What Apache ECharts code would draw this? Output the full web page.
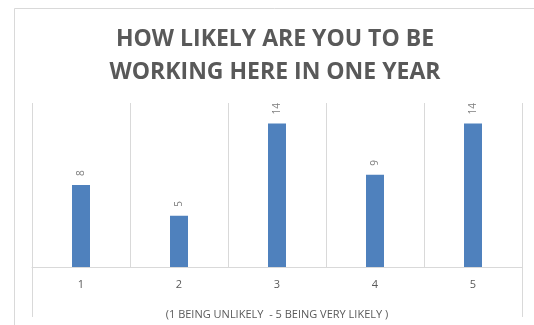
<!DOCTYPE html>
<html>
<head>
<meta charset="utf-8">
<script src="https://cdn.jsdelivr.net/npm/echarts@6/dist/echarts.min.js"></script>
<style>
  html, body { margin: 0; padding: 0; background: #fff; }
  #chart { width: 534px; height: 325px; }
</style>
</head>
<body>
<div id="chart"></div>
<script>
// 数据
const categories = ['1', '2', '3', '4', '5'];
const counts = [8, 5, 14, 9, 14];
const titleText = 'HOW LIKELY ARE YOU TO BE\nWORKING HERE IN ONE YEAR';
const axisTitle = '(1 BEING UNLIKELY  - 5 BEING VERY LIKELY )';

const chart = echarts.init(document.getElementById('chart'));

const option = {
  backgroundColor: '#fff',
  animation: false,
  title: {
    text: titleText,
    left: 270,
    textAlign: 'center',
    top: 18,
    textStyle: {
      fontFamily: 'Open Sans',
      fontWeight: 'bold',
      fontSize: 23,
      lineHeight: 33,
      color: '#595959'
    }
  },
  // 外框
  graphic: [
    {
      type: 'rect',
      shape: { x: 14.5, y: 8.5, width: 600, height: 400 },
      style: { fill: 'none', stroke: '#d9d9d9', lineWidth: 1 },
      silent: true
    }
  ],
  grid: {
    left: 32,
    right: 12,
    top: 103,
    bottom: 53
  },
  xAxis: {
    type: 'category',
    data: categories,
    axisLine: { lineStyle: { color: '#d9d9d9' } },
    axisTick: {
      show: true,
      length: 50,
      interval: function (index) { return index === 0; },
      lineStyle: { color: '#d9d9d9' }
    },
    axisLabel: {
      fontFamily: 'Open Sans',
      fontSize: 11,
      color: '#595959',
      margin: 12
    },
    splitLine: {
      show: true,
      interval: 0,
      lineStyle: { color: '#d9d9d9' }
    },
    name: axisTitle,
    nameLocation: 'middle',
    nameGap: 42,
    nameTextStyle: {
      fontFamily: 'Open Sans',
      fontSize: 11,
      color: '#595959'
    }
  },
  yAxis: {
    type: 'value',
    min: 0,
    max: 16,
    show: false
  },
  series: [
    {
      type: 'bar',
      data: counts,
      barWidth: 18,
      itemStyle: { color: '#4f81bd' },
      label: {
        show: true,
        position: 'top',
        rotate: 90,
        align: 'left',
        verticalAlign: 'middle',
        distance: 9,
        fontFamily: 'Open Sans',
        fontSize: 10,
        color: '#7f7f7f'
      }
    }
  ]
};

chart.setOption(option);
</script>
</body>
</html>
